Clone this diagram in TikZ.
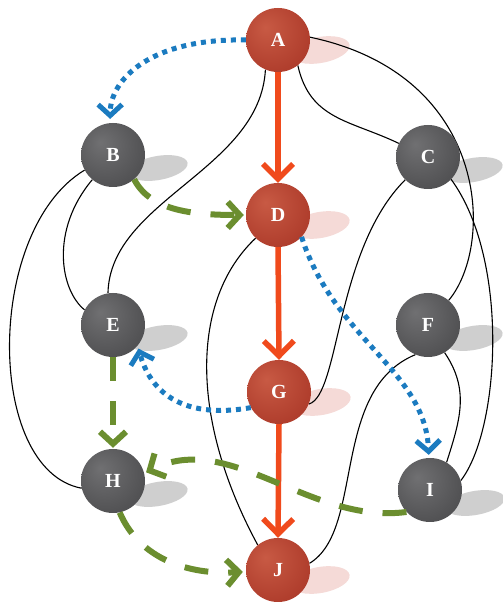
\documentclass[tikz,border=0pt]{standalone}
\usepackage{fontspec}
\setmainfont{Liberation Serif}
\usetikzlibrary{arrows.meta}
\definecolor{redarrow}{HTML}{F04A1C}
\definecolor{bluearrow}{HTML}{1B7BC0}
\definecolor{greenarrow}{HTML}{6B8E2F}
\definecolor{ballgrayhi}{HTML}{707072}
\definecolor{ballgray}{HTML}{525254}
\definecolor{ballgraydk}{HTML}{38383A}
\definecolor{ballredhi}{HTML}{C85A44}
\definecolor{ballred}{HTML}{B03E2D}
\definecolor{ballreddk}{HTML}{8E2C1E}
\definecolor{grayshadow}{HTML}{CFCFCF}
\definecolor{redshadow}{HTML}{F5DAD7}
\pgfdeclareradialshading{grayballshade}{\pgfpoint{-10bp}{10bp}}{color(0bp)=(ballgrayhi); color(30bp)=(ballgray); color(64bp)=(ballgraydk)}
\pgfdeclareradialshading{redballshade}{\pgfpoint{-10bp}{10bp}}{color(0bp)=(ballredhi); color(30bp)=(ballred); color(64bp)=(ballreddk)}
\pgfdeclarelayer{bg}
\pgfsetlayers{bg,main}
\begin{document}
\begin{tikzpicture}[x=1pt,y=1pt,
  ball/.style={circle, minimum size=64pt, inner sep=0pt, text=white,
    font=\fontsize{20}{20}\selectfont\bfseries},
  grayball/.style={ball, shading=grayballshade},
  redball/.style={ball, shading=redballshade},
  gshadow/.style={fill=grayshadow},
  rshadow/.style={fill=redshadow},
  thinline/.style={black, line width=1.1pt},
  redarr/.style={redarrow, line width=5.5pt, -{Straight Barb[length=15pt,width=30pt]}},
  bluearr/.style={bluearrow, line width=5pt, dash pattern=on 5pt off 5pt,
    -{Straight Barb[length=11pt,width=24pt]}},
  greenarr/.style={greenarrow, line width=6pt, dash pattern=on 24pt off 20pt,
    -{Straight Barb[length=12pt,width=26pt]}}
]
\useasboundingbox (0,0) rectangle (503,605);

\node[redball]  (A) at (278,565) {A};
\node[grayball] (B) at (113,450) {B};
\node[grayball] (C) at (428,448) {C};
\node[redball]  (D) at (278,390) {D};
\node[grayball] (E) at (113,280) {E};
\node[grayball] (F) at (428,280) {F};
\node[redball]  (G) at (279,213) {G};
\node[grayball] (H) at (113,124) {H};
\node[grayball] (I) at (430,115) {I};
\node[redball]  (J) at (278,35) {J};

\begin{pgfonlayer}{bg}
  \fill[white] (0,0) rectangle (503,605);
  \foreach \n in {B,C,E,F,H,I}
    \fill[gshadow, shift={(\n.center)}, shift={(45,-13)}, rotate=10] (0,0) ellipse [x radius=30, y radius=12];
  \foreach \n in {A,D,G,J}
    \fill[rshadow, shift={(\n.center)}, shift={(42,-10)}, rotate=10] (0,0) ellipse [x radius=30, y radius=13];

  \draw[thinline] (A.-52) .. controls (310,485) and (350,485) .. (C.155);
  \draw[thinline] (A.5) .. controls (490,530) and (495,360) .. (F.50);
  \draw[thinline] (A.-113) .. controls (260,435) and (110,405) .. (E.99);
  \draw[thinline] (B.-152) .. controls (-15,375) and (-15,135) .. (H.-167);
  \draw[thinline] (B.-130) .. controls (50,375) and (60,315) .. (E.152);
  \draw[thinline] (D.-134) .. controls (190,305) and (190,185) .. (J.129);
  \draw[thinline] (G.-22) .. controls (340,210) and (335,355) .. (C.-135);
  \draw[thinline] (F.-113) .. controls (330,215) and (365,75) .. (J.12);
  \draw[thinline] (F.-59) .. controls (470,215) and (460,185) .. (I.59);
  \draw[thinline] (C.-44) .. controls (510,345) and (500,175) .. (I.17);
\end{pgfonlayer}

\draw[redarr] (A.south) -- (D.north);
\draw[redarr] (D.south) -- (G.north);
\draw[redarr] (G.south) -- (J.north);

\draw[bluearr, shorten >=4pt] (A.180) .. controls (150,567) and (110,525) .. (B.95);
\draw[bluearr, shorten >=3pt] (D.-43) .. controls (335,265) and (425,235) .. (I.92);
\draw[bluearr, shorten >=3pt] (G.209) .. controls (180,185) and (150,215) .. (E.-40);

\draw[greenarr, shorten >=2pt] (B.-49) .. controls (150,395) and (190,390) .. (D.180);
\draw[greenarr, shorten >=1pt] (E.south) -- (H.north);
\draw[greenarr, shorten >=2pt] (I.-137) .. controls (310,80) and (230,175) .. (H.14);
\draw[greenarr, shorten >=3pt] (H.-78) .. controls (140,45) and (190,30) .. (J.183);
\end{tikzpicture}
\end{document}
